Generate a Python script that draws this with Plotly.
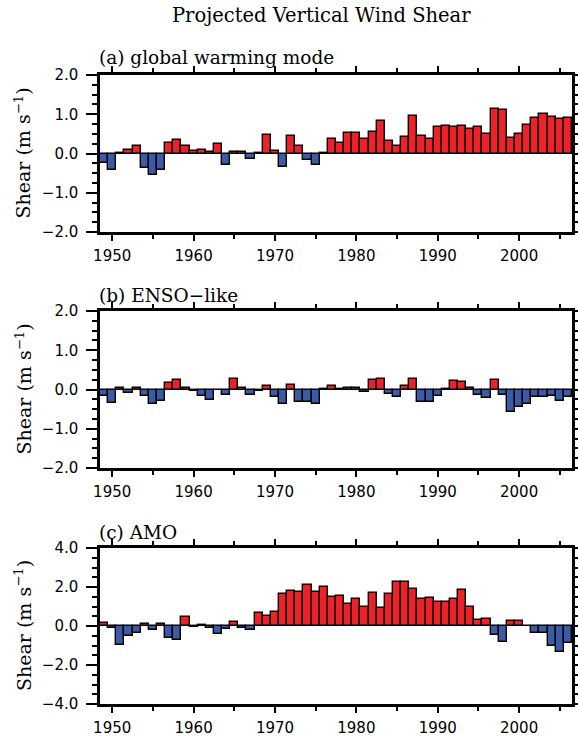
import plotly.graph_objects as go

years = list(range(1949, 2007))

gw_mode = [-0.25, -0.42, 0.02, 0.09, 0.2, -0.36, -0.56, -0.41, 0.26, 0.35,
           0.19, 0.06, 0.09, 0.04, 0.25, -0.3, 0.04, 0.03, -0.14, 0.02,
           0.48, 0.07, -0.34, 0.44, 0.19, -0.16, -0.29, 0.02, 0.38, 0.27,
           0.51, 0.53, 0.38, 0.55, 0.84, 0.32, 0.2, 0.43, 0.95, 0.45,
           0.36, 0.67, 0.7, 0.67, 0.69, 0.62, 0.68, 0.5, 1.14, 1.12,
           0.4, 0.5, 0.72, 0.91, 1.0, 0.92, 0.88, 0.9]

enso_like = [-0.17, -0.34, 0.03, -0.08, 0.05, -0.16, -0.38, -0.3, 0.16, 0.23,
             0.03, -0.04, -0.17, -0.27, 0.0, -0.14, 0.26, 0.05, -0.15, -0.05,
             0.1, -0.2, -0.38, 0.12, -0.33, -0.31, -0.38, 0.02, 0.1,
             0.01, 0.05, 0.05, -0.07, 0.24, 0.28, -0.11, -0.18, 0.08, 0.26,
             -0.32, -0.32, -0.17, 0.02, 0.21, 0.18, 0.03, -0.14, -0.22, 0.25,
             -0.15, -0.58, -0.45, -0.38, -0.2, -0.2, -0.17, -0.29, -0.2]

amo = [0.17, -0.1, -0.97, -0.51, -0.36, 0.08, -0.22, 0.1, -0.63, -0.73,
       0.46, -0.05, 0.03, -0.12, -0.39, -0.17, 0.2, -0.1, -0.22, 0.69,
       0.49, 0.73, 1.66, 1.81, 1.76, 2.08, 1.75, 1.98, 1.49,
       1.56, 1.12, 1.41, 0.98, 1.71, 0.9, 1.64, 2.24, 2.24, 1.88,
       1.41, 1.44, 1.24, 1.24, 1.36, 1.85, 0.98, 0.29, 0.37, -0.46,
       -0.81, 0.24, 0.24, -0.02, -0.36, -0.37, -1.05, -1.34, -0.86]

panel_titles = ["(a) global warming mode", "(b) ENSO\u2212like", "(c) AMO"]
y_ranges = [[-2, 2], [-2, 2], [-4, 4]]
y_major = [1.0, 1.0, 2.0]
y_minor = [0.25, 0.25, 0.5]
x_tickvals = [1950, 1960, 1970, 1980, 1990, 2000]
title_text = "Projected Vertical Wind Shear"
ylabel_text = "Shear (m s<sup>\u22121</sup>)"

RED = "#EE2028"
BLUE = "#3B5BA8"
W, H = 578, 740
X0, X1 = 100, 572
panel_px = [(75, 232), (311, 468), (548, 704)]
label_y_px = [58, 295, 532]

SERIF = "DejaVu Serif"
SANS = "DejaVu Sans"

fig = go.Figure()
series = [gw_mode, enso_like, amo]
for i, vals in enumerate(series):
    n = "" if i == 0 else str(i + 1)
    colors = [RED if v >= 0 else BLUE for v in vals]
    fig.add_trace(go.Bar(
        x=years, y=vals, width=1.0,
        marker=dict(color=colors, line=dict(color="black", width=1.4)),
        xaxis="x" + n, yaxis="y" + n, showlegend=False, hoverinfo="skip",
    ))
    top, bot = panel_px[i]
    ydom = [1 - bot / H, 1 - top / H]
    xkey = "xaxis" + n
    ykey = "yaxis" + n
    fig.update_layout(**{
        xkey: dict(
            domain=[X0 / W, X1 / W], range=[1948.5, 2006.5], anchor="y" + n,
            tickvals=x_tickvals, ticks="outside", ticklen=6, tickwidth=2,
            tickcolor="black", showline=True, linewidth=2.5, linecolor="black",
            mirror="ticks", showgrid=False, zeroline=False, automargin=False,
            ticklabelstandoff=2,
            minor=dict(dtick=5, tick0=1950, ticks="outside", ticklen=4,
                       tickwidth=1.5, tickcolor="black", showgrid=False),
            tickfont=dict(family=SANS, size=15, color="black"),
        ),
        ykey: dict(
            domain=ydom, range=y_ranges[i], anchor="x" + n,
            dtick=y_major[i], tick0=0, tickformat=".1f",
            ticks="outside", ticklen=11, tickwidth=2, tickcolor="black",
            showline=True, linewidth=2.5, linecolor="black", mirror="ticks",
            showgrid=False, zeroline=False, automargin=False,
            ticklabelstandoff=5,
            minor=dict(dtick=y_minor[i], ticks="outside", ticklen=5,
                       tickwidth=1.5, tickcolor="black", showgrid=False),
            tickfont=dict(family=SANS, size=15, color="black"),
        ),
    })
    fig.add_annotation(
        x=97 / W, y=1 - label_y_px[i] / H, xref="paper", yref="paper",
        xanchor="left", yanchor="middle", showarrow=False,
        text=panel_titles[i], font=dict(family=SERIF, size=18.5, color="black"),
    )
    fig.add_annotation(
        x=23 / W, y=1 - (top + bot) / 2 / H, xref="paper", yref="paper",
        xanchor="center", yanchor="middle", showarrow=False, textangle=-90,
        text=ylabel_text, font=dict(family=SERIF, size=19, color="black"),
    )

fig.add_annotation(
    x=321 / W, y=1 - 15 / H, xref="paper", yref="paper",
    xanchor="center", yanchor="middle", showarrow=False,
    text=title_text, font=dict(family=SERIF, size=19.5, color="black"),
)

fig.update_layout(
    width=W, height=H,
    margin=dict(l=0, r=0, t=0, b=0, pad=0, autoexpand=False),
    paper_bgcolor="white", plot_bgcolor="white", bargap=0,
)

fig.write_html(
    "out.html",
    config={"displayModeBar": False},
    post_script="document.body.style.margin='0';document.body.style.padding='0';",
)
